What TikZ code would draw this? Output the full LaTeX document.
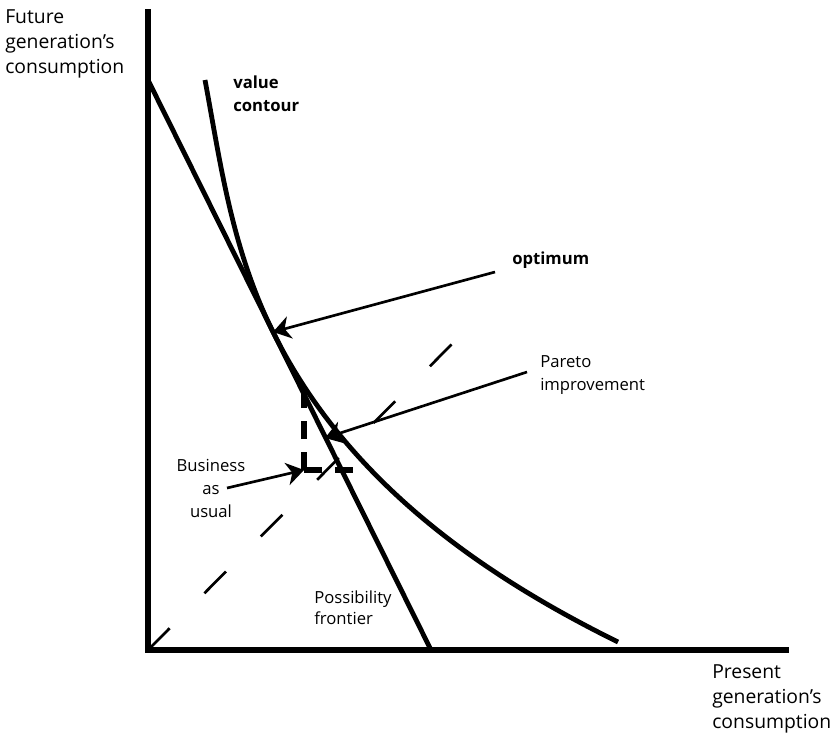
\documentclass[tikz,border=0pt]{standalone}
\usepackage{fontspec}
\setmainfont{Open Sans}
\usetikzlibrary{arrows.meta}
\begin{document}
\begin{tikzpicture}[x=0.75pt,y=-0.75pt,
  axis/.style={line width=4.2pt},
  curve/.style={line width=3.6pt},
  pointer/.style={line width=2pt,-{Stealth[length=13pt,width=17pt,inset=4pt]}},
  guide/.style={line width=2pt,dash pattern=on 23pt off 37pt},
  bau/.style={line width=3.8pt,dash pattern=on 13.5pt off 9.75pt},
  lbl/.style={inner sep=0pt,anchor=base west,align=left,font=\fontsize{12.5}{17}\selectfont},
  axlbl/.style={lbl,font=\fontsize{14.5}{18.5}\selectfont},
  blbl/.style={lbl,font=\fontsize{12.5}{17}\selectfont\bfseries}]
  \useasboundingbox (0,0) rectangle (837,739);
  % axes
  \coordinate (O) at (148,650);
  \coordinate (ytop) at (148,9);
  \coordinate (xend) at (789,650);
  \draw[axis] (ytop) -- (O) -- (xend);
  % possibility frontier and value contour
  \coordinate (f1) at (148,80);
  \coordinate (f2) at (431,650);
  \draw[curve] (f1) -- (f2);
  \coordinate (c1) at (205,80);
  \coordinate (opt) at (273,332);
  \coordinate (c2) at (618,642);
  \draw[curve] (c1) .. controls (220,160) and (231,247) .. (opt)
    .. controls (343,473) and (468,568) .. (c2);
  % equal split and business as usual
  \coordinate (diag) at (453,343);
  \draw[guide] (O) -- (diag);
  \coordinate (bau) at (304,470);
  \coordinate (bautop) at (304,387);
  \coordinate (bauright) at (353,470);
  \draw[bau] (bau) -- (bautop);
  \draw[bau] (bau) -- (bauright);
  \coordinate (par) at (325,438);
  % labels (base = last line)
  \node[axlbl] (future) at (5,73) {Future\\generation’s\\consumption};
  \node[axlbl] (present) at (712,728) {Present\\generation’s\\consumption};
  \node[blbl] (value) at (233,111) {value\\contour};
  \node[blbl] (optimum) at (512,264) {optimum};
  \node[lbl] (pareto) at (540,390) {Pareto\\improvement};
  \node[lbl,anchor=base,align=center] (business) at (211,517) {Business\\as\\usual};
  \node[lbl,font=\fontsize{12.5}{15.5}\selectfont] (possib) at (314,624) {Possibility\\frontier};
  % pointers
  \coordinate (optTail) at (495,272);
  \coordinate (parTail) at (527,372);
  \coordinate (bauTail) at (227,488);
  \draw[pointer] (optTail) -- (opt);
  \draw[pointer] (parTail) -- (par);
  \draw[pointer] (bauTail) -- (bau);
\end{tikzpicture}
\end{document}
